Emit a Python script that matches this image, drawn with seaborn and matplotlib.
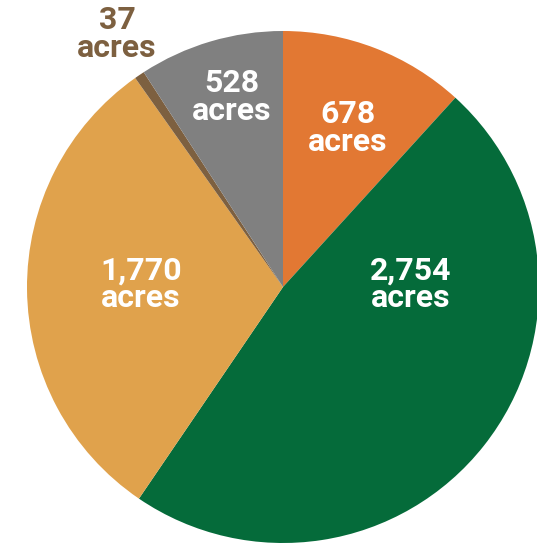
import matplotlib
matplotlib.use("Agg")
import matplotlib.pyplot as plt
import seaborn as sns

values = [678, 2754, 1770, 37, 528]
labels = ["678\nacres", "2,754\nacres", "1,770\nacres", "37\nacres", "528\nacres"]
colors = ["#E27833", "#056B3A", "#E0A24C", "#7D6040", "#808080"]
label_colors = ["white", "white", "white", "#7D6040", "white"]
# label offsets from pie center, in pixels (x right, y up)
label_offsets = [(65, 159), (128, 3), (-142, 3), (-166, 253), (-51, 190)]

sns.set_theme(style="white")
plt.rcParams['font.family'] = ['Roboto', 'DejaVu Sans']

W, H = 537, 543
fig = plt.figure(figsize=(W / 100, H / 100), dpi=100)
ax = fig.add_axes([0, 0, 1, 1])
ax.set_xlim(0, W)
ax.set_ylim(0, H)
ax.axis("off")

cx, cy, r = 283, H - 287, 256
ax.pie(values, colors=colors, startangle=90, counterclock=False,
       center=(cx, cy), radius=r, frame=True,
       wedgeprops=dict(linewidth=0))
ax.set_xlim(0, W)
ax.set_ylim(0, H)
ax.axis("off")

for lab, col, (dx, dy) in zip(labels, label_colors, label_offsets):
    ax.text(cx + dx, cy + dy, lab, color=col, fontsize=23, fontweight="bold",
            ha="center", va="center", linespacing=0.9)

fig.savefig("out.png", dpi=100)
